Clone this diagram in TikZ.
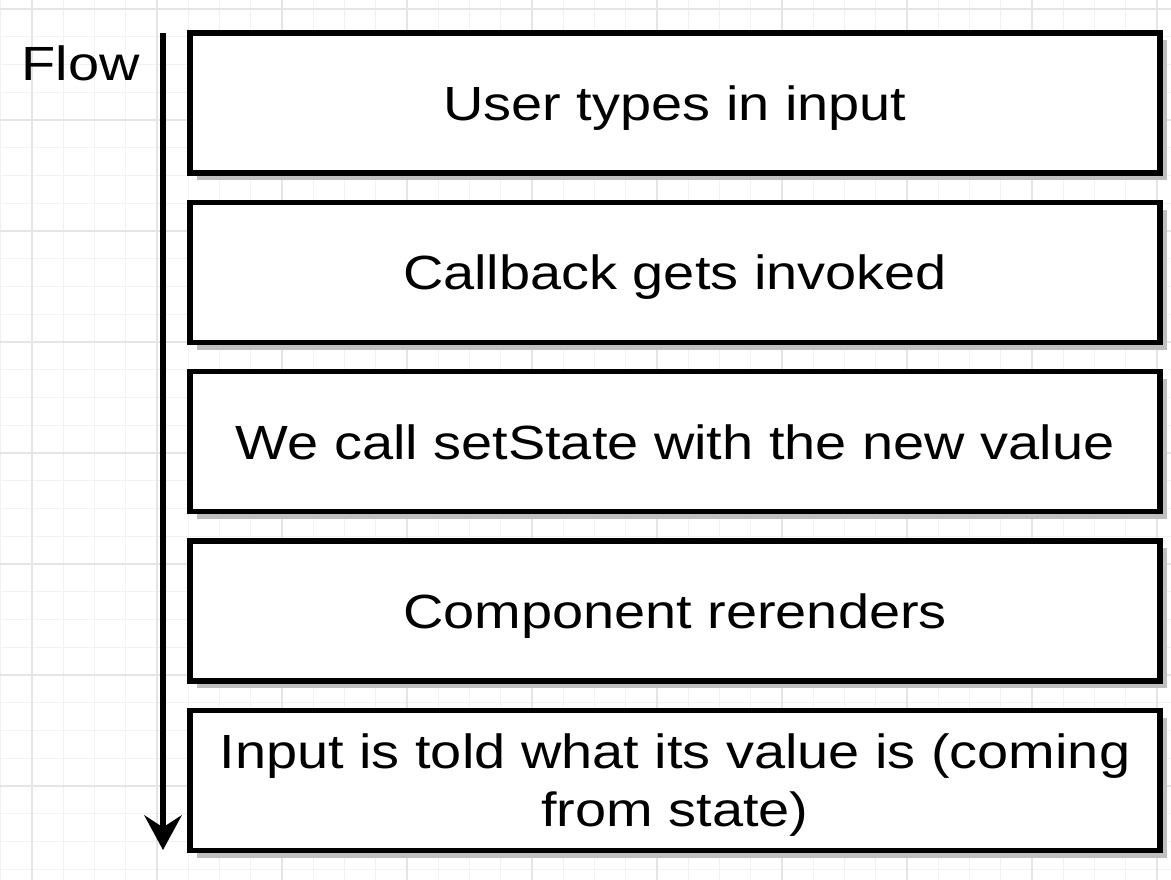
\documentclass[tikz,border=0pt]{standalone}
\usepackage{fontspec}
\setmainfont[FakeStretch=1.165]{Liberation Sans}
\usetikzlibrary{arrows.meta}
\usetikzlibrary{positioning}
\usetikzlibrary{shadows}
\tikzset{
    stepbox/.style={
        rectangle,
        draw=black,
        fill=white,
        line width=4pt,
        minimum width=727.5pt,
        minimum height=105pt,
        align=center,
        text depth=0pt,
        font=\fontsize{36}{43.5}\selectfont,
        drop shadow={shadow xshift=5.5pt, shadow yshift=-5.5pt, fill=black!25, opacity=1}
    },
    flowarrow/.style={
        -{Stealth[length=26pt, width=28pt, inset=9pt]},
        line width=3.8pt,
        draw=black
    }
}

\begin{document}
\begin{tikzpicture}[
x=0.75pt, y=-0.75pt,
node distance=18pt,
gridminor/.style={draw=black!5, line width=0.75pt},
gridmajor/.style={draw=black!10, line width=0.9pt},
flowlabel/.style={font=\fontsize{36}{43.5}\selectfont, inner sep=0pt}
]
\useasboundingbox (0,0) rectangle (1171,880);
\fill[white] (0,0) rectangle (1171,880);
% background grid
\foreach \k in {0,...,37}
    \draw[gridminor] ({0.75+31.25*\k},0) -- ({0.75+31.25*\k},880);
\foreach \k in {0,...,31}
    \draw[gridminor] (0,{9+27.75*\k}) -- (1171,{9+27.75*\k});
\foreach \k in {0,...,9}
    \draw[gridmajor] ({32+125*\k},0) -- ({32+125*\k},880);
\foreach \k in {0,...,7}
    \draw[gridmajor] (0,{9+111*\k}) -- (1171,{9+111*\k});

% steps
\node[stepbox] (s1) at (675,103) {User types in input};
\node[stepbox, below=of s1] (s2) {Callback gets invoked};
\node[stepbox, below=of s2] (s3) {We call setState with the new value};
\node[stepbox, below=of s3] (s4) {Component rerenders};
\node[stepbox, below=of s4] (s5) {Input is told what its value is (coming\\from state)};

% flow arrow
\coordinate (flowtop) at (163,33);
\coordinate (flowend) at (163,850);
\node[flowlabel, anchor=base east] (flow) at (140,81) {Flow};
\draw[flowarrow] (flowtop) -- (flowend);
\end{tikzpicture}
\end{document}
